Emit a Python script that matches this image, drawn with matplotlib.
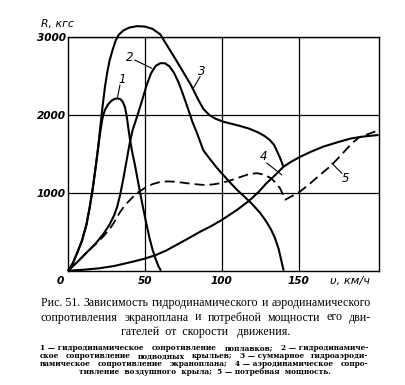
import matplotlib
matplotlib.use('Agg')
import matplotlib.pyplot as plt

# ---------------- data ----------------
# 1 - float hydrodynamic drag
c1_x = [0, 3, 6, 9, 12, 14, 16, 18, 19.5, 21, 22.5, 24, 26, 28, 30, 32, 34, 35.5, 37, 38.2, 39.3, 40.5, 42, 43.5,
        45, 47, 49, 51, 53, 55, 57, 59, 60.5]
c1_y = [0, 90, 230, 380, 590, 800, 1040, 1330, 1560, 1780, 1960, 2060, 2130, 2175, 2200, 2210, 2200, 2170, 2100,
        1980, 1820, 1660, 1500, 1360, 1200, 990, 790, 600, 420, 270, 150, 50, 0]

# 2 - hydrofoil hydrodynamic drag
c2_x = [0, 6, 12, 18, 23, 27, 30, 32, 34, 36, 38, 40, 42, 45, 48, 51, 54, 57, 60, 63, 66, 69, 72, 75, 78, 81, 84,
        88, 92, 96, 100, 105, 110, 115, 120, 125, 129, 132, 134.5, 137, 139, 140.3]
c2_y = [0, 110, 230, 350, 470, 590, 710, 820, 980, 1180, 1400, 1620, 1800, 1980, 2170, 2370, 2530, 2625, 2660,
        2660, 2620, 2535, 2410, 2250, 2080, 1905, 1760, 1545, 1440, 1340, 1248, 1140, 1035, 945, 850, 740, 630, 530,
        425, 280, 110, 0]

# 3 - total drag
c3_x = [0, 3, 6, 9, 12, 14, 16, 18, 19.5, 21, 22.5, 24, 25.5, 27, 29, 31, 33, 36, 40, 45, 50, 55, 60, 65, 70, 75,
        80, 84, 88, 92, 96, 101, 106, 112, 118, 124, 128, 131, 134, 136.5, 138.5, 140]
c3_y = [0, 90, 230, 380, 590, 800, 1040, 1330, 1560, 1840, 2110, 2350, 2540, 2690, 2830, 2950, 3025, 3080, 3118,
        3135, 3130, 3100, 3030, 2870, 2710, 2545, 2380, 2220, 2075, 1995, 1948, 1910, 1885, 1855, 1820, 1770, 1725,
        1680, 1615, 1510, 1420, 1335]

# 4 - air wing aerodynamic drag
c4_x = [0, 10, 20, 30, 42, 50, 57, 64, 70, 77, 86, 93, 100, 110, 118, 124, 129, 135, 140, 145, 151, 158, 166, 175,
        184, 192, 202]
c4_y = [0, 12, 30, 60, 115, 155, 200, 260, 325, 400, 500, 570, 650, 780, 900, 1010, 1120, 1230, 1330, 1395, 1460,
        1525, 1590, 1645, 1695, 1720, 1740]

# 5 - required power (dashed)
c5_x = [0, 6, 12, 18, 23, 27, 30, 33.5, 37, 40, 43, 46, 50, 55, 60, 65, 70, 76, 82, 88, 94, 100, 106, 112, 118,
        123, 128, 132, 135, 138, 141.3, 146, 151, 157, 164, 171, 178, 184, 189, 195, 202]
c5_y = [0, 110, 230, 340, 440, 530, 620, 740, 840, 900, 960, 1010, 1060, 1110, 1138, 1145, 1140, 1125, 1110, 1100,
        1105, 1125, 1160, 1200, 1240, 1250, 1230, 1185, 1130, 1055, 910, 960, 1015, 1110, 1230, 1345, 1490, 1620,
        1705, 1750, 1800]

x_ticks = [50, 100, 150]
x_tick_labels = ['50', '100', '150']
y_ticks = [1000, 2000, 3000]
y_tick_labels = ['1000', '2000', '3000']
x_label = 'υ, км/ч'
y_label = 'R, кгс'

curve_labels = ['1', '2', '3', '4', '5']
label_pos = [(35.0, 2445), (40.3, 2730), (87.0, 2555), (127.0, 1465), (180.5, 1185)]
leaders = [((33.8, 2380), (32.3, 2230)),
           ((43.6, 2700), (54.5, 2595)),
           ((85.9, 2487), (81.5, 2340)),
           ((129.3, 1380), (139.0, 1230)),
           ((171.6, 1377), (178.1, 1250))]

caption_lines = [
    ['Рис. 51.', 'Зависимость', 'гидродинамического', 'и', 'аэродинамического'],
    ['сопротивления', 'экраноплана', 'и', 'потребной', 'мощности', 'его', 'дви-'],
    ['гателей  от  скорости   движения.'],
]
note_lines = [
    ['1 — гидродинамическое', 'сопротивление', 'поплавков;', '2 — гидродинамиче-'],
    ['ское', 'сопротивление', 'подводных', 'крыльев;', '3 — суммарное', 'гидроаэроди-'],
    ['намическое', 'сопротивление', 'экраноплана;', '4 — аэродинамическое', 'сопро-'],
    ['тивление  воздушного  крыла;  5 — потребная  мощность.'],
]

# ---------------- figure ----------------
W, H = 406, 385
fig = plt.figure(figsize=(W / 100, H / 100), dpi=100)
fig.patch.set_facecolor('white')

L, R, T, B = 68, 379, 36.7, 270.7
ax = fig.add_axes([L / W, 1 - B / H, (R - L) / W, (B - T) / H])
ax.set_xlim(0, 202.3)
ax.set_ylim(0, 3000)

for s in ax.spines.values():
    s.set_linewidth(1.0)
    s.set_color('black')

ax.set_xticks(x_ticks)
ax.set_xticklabels(x_tick_labels)
ax.set_yticks(y_ticks)
ax.set_yticklabels(y_tick_labels)
ax.tick_params(length=0, pad=4, labelsize=7.6)
ax.tick_params(axis='y', pad=1.5)
for lab in ax.get_xticklabels() + ax.get_yticklabels():
    lab.set_fontstyle('italic')
    lab.set_fontweight('bold')
    lab.set_family('DejaVu Sans')
ax.grid(True, color='black', linewidth=0.9)
ax.set_axisbelow(True)

lw = 1.5
ax.plot(c1_x, c1_y, color='black', lw=lw, clip_on=False, solid_capstyle='butt', solid_joinstyle='round')
ax.plot(c2_x, c2_y, color='black', lw=lw, clip_on=False, solid_capstyle='butt', solid_joinstyle='round')
ax.plot(c3_x, c3_y, color='black', lw=lw, clip_on=False, solid_capstyle='butt', solid_joinstyle='round')
ax.plot(c4_x, c4_y, color='black', lw=lw, clip_on=False, solid_capstyle='butt', solid_joinstyle='round')
ax.plot(c5_x, c5_y, color='black', lw=1.3, clip_on=False, linestyle=(0, (5.5, 2.8)))

for lab, (lx, ly), (p0, p1) in zip(curve_labels, label_pos, leaders):
    ax.text(lx, ly, lab, fontsize=8.5, style='italic', ha='center', va='center', family='DejaVu Sans')
    ax.plot([p0[0], p1[0]], [p0[1], p1[1]], color='black', lw=0.8)

# "0" at the corner and the axis titles
fig.text(60 / W, 1 - 281 / H, '0', fontsize=7.6, style='italic', weight='bold', ha='center', va='center',
         family='DejaVu Sans')
fig.text(350 / W, 1 - 281 / H, x_label, fontsize=8.2, style='italic', ha='center', va='center',
         family='DejaVu Sans')
fig.text(57 / W, 1 - 24 / H, y_label, fontsize=7.8, style='italic', ha='center', va='center',
         family='DejaVu Sans')

# ---------------- caption ----------------
fig.canvas.draw()
renderer = fig.canvas.get_renderer()


def place_line(tokens, y, size, family, x0=None, x1=None, center=None, weight='normal'):
    ts = [fig.text(0, 1 - y / H, t, fontsize=size, family=family, weight=weight,
                   ha='left', va='baseline') for t in tokens]
    ws = [t.get_window_extent(renderer).width for t in ts]
    if center is None and len(ts) > 1:
        gap = (x1 - x0 - sum(ws)) / (len(ts) - 1)
        x = x0
    else:
        gap = 0
        x = center - sum(ws) / 2
    for t, w in zip(ts, ws):
        t.set_x(x / W)
        x += w + gap


cap_font = 'Liberation Serif'
note_font = 'DejaVu Serif'
place_line(caption_lines[0], 306, 8.6, cap_font, x0=41, x1=371)
place_line(caption_lines[1], 320.5, 8.6, cap_font, x0=41, x1=371)
place_line(caption_lines[2], 335, 8.6, cap_font, center=206)
place_line(note_lines[0], 350.5, 5.3, note_font, x0=40, x1=368, weight='bold')
place_line(note_lines[1], 358.5, 5.3, note_font, x0=40, x1=368, weight='bold')
place_line(note_lines[2], 366.5, 5.3, note_font, x0=40, x1=368, weight='bold')
place_line(note_lines[3], 374.5, 5.3, note_font, center=205, weight='bold')

fig.savefig('out.png', dpi=100)
